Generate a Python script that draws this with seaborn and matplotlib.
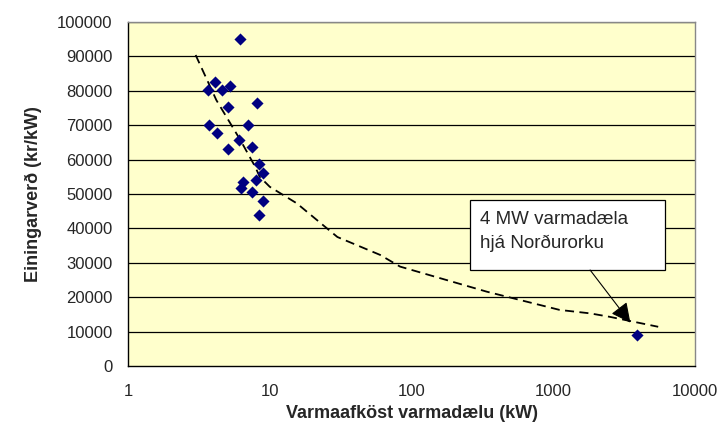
import matplotlib
matplotlib.use("Agg")
import matplotlib.pyplot as plt
import seaborn as sns
import pandas as pd
from matplotlib.patches import Rectangle
from matplotlib.ticker import FixedLocator, NullLocator, FixedFormatter

# Varmadælur: afköst (kW) og einingarverð (kr/kW)
afkost = [6.2, 4.1, 3.65, 4.6, 5.25, 8.15, 5.1, 3.75, 7.05, 4.25, 6.05,
          7.45, 5.1, 8.45, 9.0, 8.0, 6.45, 6.25, 7.45, 9.0, 8.45, 3900]
verd = [95100, 82600, 80200, 80200, 81400, 76500, 75300, 70100, 70100, 67800, 65700,
        63700, 63200, 58600, 56200, 54100, 53400, 51800, 50700, 48100, 43900, 9000]

# Leitnilína (lesin af myndinni)
leitni_x = [3.0, 4.2, 6.2, 7.9, 8.5, 10, 15.5, 30, 60, 83, 340, 1110, 1820, 2500, 5500]
leitni_y = [90400, 77300, 65700, 57900, 55000, 52100, 47300, 37500, 32300, 28900,
            21600, 16300, 15300, 14300, 11400]

x_ticks = [1, 10, 100, 1000, 10000]
x_labels = ["1", "10", "100", "1000", "10000"]
y_ticks = list(range(0, 100001, 10000))

df = pd.DataFrame({"afkost": afkost, "verd": verd})
df_leitni = pd.DataFrame({"x": leitni_x, "y": leitni_y})

sns.set_style("white")
plt.rcParams["font.family"] = ["Liberation Sans", "DejaVu Sans"]

fig = plt.figure(figsize=(7.23, 4.43), dpi=100)
ax = fig.add_axes([128 / 723, 1 - 366 / 443, 567 / 723, 344 / 443])
ax.set_facecolor("#FFFFCC")

ax.set_xscale("log")
ax.set_xlim(1, 10000)
ax.set_ylim(0, 100000)

# gridlínur
for yv in y_ticks[1:]:
    ax.axhline(yv, color="black", lw=0.9, zorder=1)

sns.lineplot(data=df_leitni, x="x", y="y", ax=ax, sort=False, color="black",
             lw=1.3, dashes=False, zorder=3)
ax.lines[-1].set_dashes([5, 3])

sns.scatterplot(data=df, x="afkost", y="verd", ax=ax, marker="D", s=38,
                color="#000080", edgecolor="#000080", linewidth=0, zorder=4)

ax.xaxis.set_major_locator(FixedLocator(x_ticks))
ax.xaxis.set_major_formatter(FixedFormatter(x_labels))
ax.xaxis.set_minor_locator(NullLocator())
ax.set_yticks(y_ticks)
ax.set_yticklabels([str(v) for v in y_ticks])

ax.tick_params(axis="both", which="major", direction="out", length=5, width=0.9,
               color="black", labelsize=12, pad=6)
ax.tick_params(axis="x", pad=8)

for side in ["left", "bottom"]:
    ax.spines[side].set_color("black")
    ax.spines[side].set_linewidth(1.0)
for side in ["top", "right"]:
    ax.spines[side].set_color("#888888")
    ax.spines[side].set_linewidth(1.0)

ax.set_xlabel("Varmaafköst varmadælu (kW)", fontsize=13, fontweight="bold", labelpad=4)
ax.set_ylabel("Einingarverð (kr/kW)", fontsize=13, fontweight="bold", labelpad=11)

# skýringarkassi
ax.add_patch(Rectangle((0.603, 0.279), 0.344, 0.2035, transform=ax.transAxes,
                       facecolor="white", edgecolor="black", lw=0.9, zorder=5))
ax.text(0.621, 0.391, "4 MW varmadæla\nhjá Norðurorku", transform=ax.transAxes,
        fontsize=13.5, va="center", ha="left", linespacing=1.45, zorder=6)
ax.annotate("", xy=(3500, 12600), xytext=(1820, 27900),
            arrowprops=dict(arrowstyle="-|>,head_length=0.8,head_width=0.4",
                            color="black", lw=0.8, mutation_scale=15,
                            shrinkA=0, shrinkB=0), zorder=6)

fig.savefig("out.png", dpi=100)
